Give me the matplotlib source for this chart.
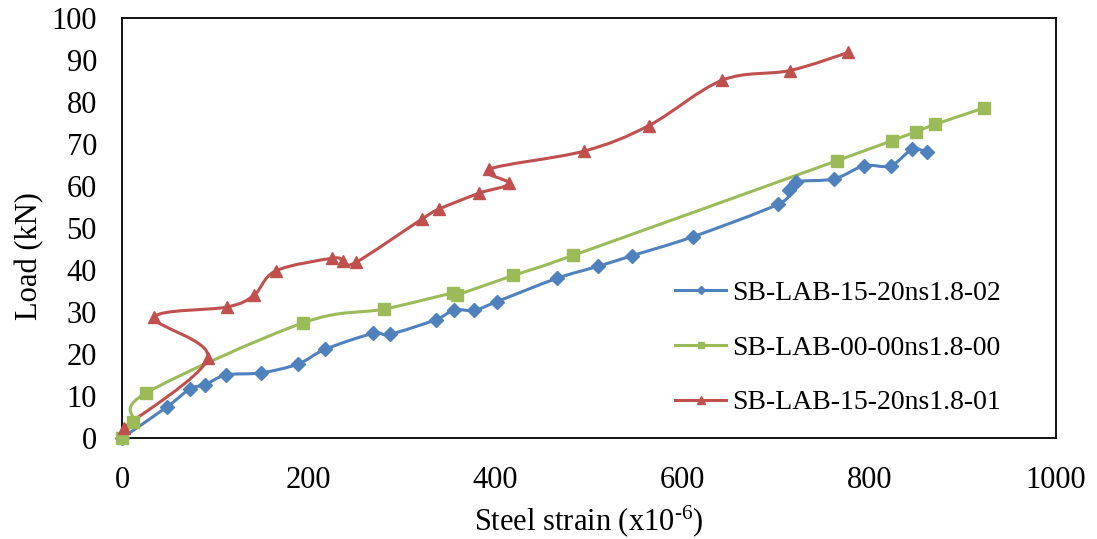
import matplotlib
matplotlib.use("Agg")
import matplotlib.pyplot as plt
from matplotlib.path import Path
from matplotlib.patches import PathPatch
from matplotlib.lines import Line2D
import numpy as np

plt.rcParams['font.family'] = ['Liberation Serif', 'DejaVu Serif']
plt.rcParams['mathtext.fontset'] = 'custom'
plt.rcParams['mathtext.rm'] = 'Liberation Serif'
plt.rcParams['mathtext.default'] = 'regular'

# ---- data ----
blue_label = "SB-LAB-15-20ns1.8-02"
blue_x = [0, 48.5, 72.8, 88.9, 111.3, 148.5, 188.4, 217.3, 268.7, 286.9, 336.2, 355.5,
          377.2, 401.8, 465.4, 510.0, 546.0, 611.0, 702.7, 714.5, 721.6, 762.3, 794.4,
          823.0, 845.8, 861.5]
blue_y = [0, 7.45, 11.7, 12.7, 15.0, 15.5, 17.6, 21.1, 24.9, 24.7, 28.2, 30.5,
          30.4, 32.5, 38.0, 40.9, 43.4, 47.9, 55.7, 59.0, 61.0, 61.7, 64.8,
          64.8, 68.7, 68.1]

green_label = "SB-LAB-00-00ns1.8-00"
green_x = [0, 11.5, 25.7, 193.5, 280.5, 354.0, 358.4, 419.0, 483.2, 765.2, 824.1, 849.8,
           870.8, 923.2]
green_y = [0, 3.9, 10.7, 27.4, 30.7, 34.5, 34.1, 38.7, 43.5, 66.0, 70.8, 72.9,
           74.7, 78.6]

red_label = "SB-LAB-15-20ns1.8-01"
red_x = [2.1, 91.8, 34.6, 112.7, 141.3, 164.6, 225.2, 236.3, 250.2, 320.9, 339.4, 382.5,
         414.7, 393.3, 494.6, 564.2, 642.7, 715.2, 777.6]
red_y = [2.5, 19.0, 28.7, 31.2, 34.0, 39.8, 42.8, 42.2, 41.8, 52.1, 54.5, 58.3,
         60.6, 64.0, 68.3, 74.4, 85.2, 87.5, 91.8]

x_ticks = [0, 200, 400, 600, 800, 1000]
y_ticks = [0, 10, 20, 30, 40, 50, 60, 70, 80, 90, 100]

BLUE = '#4F81BD'
GREEN = '#9BBB59'
RED = '#C0504D'


def smooth_path(xs, ys):
    """Cardinal-spline (Catmull-Rom) bezier through the points, like Excel's smoothed line."""
    P = np.column_stack([xs, ys]).astype(float)
    n = len(P)
    verts = [P[0]]
    codes = [Path.MOVETO]
    for i in range(n - 1):
        p0 = P[i - 1] if i > 0 else P[i]
        p1 = P[i]
        p2 = P[i + 1]
        p3 = P[i + 2] if i + 2 < n else P[i + 1]
        c1 = p1 + (p2 - p0) / 6.0
        c2 = p2 - (p3 - p1) / 6.0
        verts += [c1, c2, p2]
        codes += [Path.CURVE4] * 3
    return Path(np.array(verts), codes)


fig = plt.figure(figsize=(10.97, 5.39), dpi=100)
ax = fig.add_axes([122 / 1097, (539 - 438) / 539, (1056 - 122) / 1097, 420 / 539])

series = [
    (blue_x, blue_y, BLUE, 'D', 7, blue_label),
    (green_x, green_y, GREEN, 's', 8, green_label),
    (red_x, red_y, RED, '^', 9, red_label),
]
handles = []
for xs, ys, col, mk, ms, lab in series:
    patch = PathPatch(smooth_path(xs, ys), fill=False, edgecolor=col, lw=2.2,
                      capstyle='round', joinstyle='round')
    ax.add_patch(patch)
    ax.plot(xs, ys, linestyle='none', marker=mk, markersize=ms, color=col,
            markeredgecolor=col, clip_on=False, zorder=3)
    handles.append(Line2D([], [], color=col, lw=2.2, marker=mk,
                          markersize=ms * 0.6, markeredgecolor=col, label=lab))

ax.set_xlim(0, 1000)
ax.set_ylim(0, 100)
ax.set_xticks(x_ticks)
ax.set_yticks(y_ticks)
ax.tick_params(axis='both', length=0, labelsize=22)
ax.tick_params(axis='y', pad=18)
ax.tick_params(axis='x', pad=20)
for s in ax.spines.values():
    s.set_color('black')
    s.set_linewidth(1.3)

ax.set_xlabel(r'Steel strain (x10$^{\text{-6}}$)', fontsize=22)
ax.xaxis.set_label_coords(0.5, -0.198)
ax.xaxis.label.set_va('center')
ax.set_ylabel('Load (kN)', fontsize=22)
ax.yaxis.set_label_coords(-0.0985, 0.433)
ax.yaxis.label.set_va('center')

leg = fig.legend(handles=handles, loc='center left',
                 bbox_to_anchor=(675 / 1097, (539 - 348) / 539),
                 frameon=False, fontsize=20, handlelength=1.85, handletextpad=0.2,
                 labelspacing=1.05, borderpad=0, borderaxespad=0)

fig.savefig('out.png', dpi=100)
